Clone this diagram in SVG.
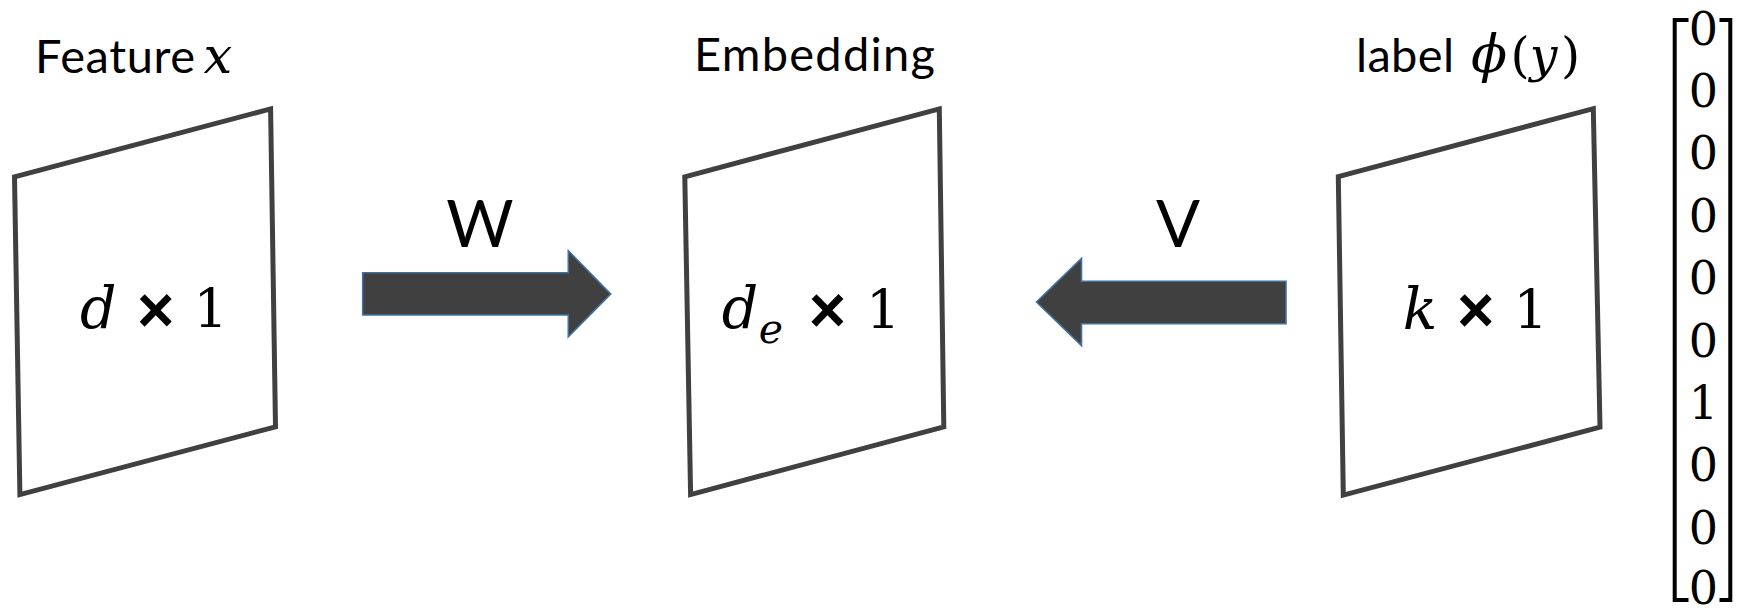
<svg xmlns="http://www.w3.org/2000/svg" width="1737" height="609" viewBox="0 0 1737 609">
<style>
.bg{fill:#ffffff}
.quad{fill:#ffffff;stroke:#404040;stroke-width:5;stroke-linejoin:miter}
.lbl{font-family:Lato,"Open Sans","Liberation Sans",sans-serif;font-size:47px;fill:#000}
.arrlbl{font-family:Lato,"Open Sans","Liberation Sans",sans-serif;font-size:65px;fill:#000;text-anchor:middle}
.math{font-family:"DejaVu Serif","Liberation Serif",serif;font-style:italic;fill:#000;text-anchor:middle}
.num{font-family:"DejaVu Serif","Liberation Serif",serif;fill:#000;text-anchor:middle}
.times{font-family:"Liberation Sans",Arial,sans-serif;font-weight:bold;font-size:64px;fill:#000;text-anchor:middle}
.arrow{fill:#404040;stroke:#41719C;stroke-width:1.6;stroke-linejoin:miter}
.bracket{fill:none;stroke:#000;stroke-width:4;stroke-linecap:butt;stroke-linejoin:miter}
</style>
<rect class="bg" x="0" y="0" width="1737" height="609"/>

<g id="node-feature">
  <text class="lbl" x="35" y="72.5" textLength="160">Feature</text>
  <text class="math" x="218" y="72.5" font-size="51">x</text>
  <polygon class="quad" points="14.5,176.8 270.6,108.9 275.5,426.8 19.9,494.6"/>
  <text class="math" x="98.3" y="328.3" font-size="57">d</text>
  <text class="times" x="155.8" y="332">×</text>
  <text class="num" x="210.8" y="328.3" font-size="54">1</text>
</g>

<g id="node-embedding">
  <text class="lbl" x="694" y="71.4" textLength="241">Embedding</text>
  <polygon class="quad" points="684.8,176.8 939.3,108.9 943.8,426.8 690.6,494.6"/>
  <text class="math" x="740" y="328.3" font-size="57">d</text>
  <text class="math" x="771" y="342.5" font-size="41">e</text>
  <text class="times" x="827.5" y="332">×</text>
  <text class="num" x="883.3" y="329" font-size="54">1</text>
</g>

<g id="node-label">
  <text class="lbl" x="1356" y="72" textLength="98">label</text>
  <text class="math" x="1489" y="72" font-size="53">ϕ</text>
  <text class="num" x="1520" y="72" font-size="49">(</text>
  <text class="math" x="1543.5" y="72" font-size="49">y</text>
  <text class="num" x="1570.5" y="72" font-size="49">)</text>
  <polygon class="quad" points="1338.3,176.7 1593.3,108.7 1600,427.2 1343.3,495.1"/>
  <text class="math" x="1420" y="329.3" font-size="57">k</text>
  <text class="times" x="1475.8" y="332">×</text>
  <text class="num" x="1530.8" y="329.3" font-size="54">1</text>
</g>

<g id="one-hot-vector">
  <polyline class="bracket" points="1688.5,20 1674.7,20 1674.7,600 1688.5,600"/>
  <polyline class="bracket" points="1719.5,20 1730.3,20 1730.3,600 1719.5,600"/>
  <g class="num" font-size="46">
    <text x="1703.3" y="44.5">0</text>
    <text x="1703.3" y="106.9">0</text>
    <text x="1703.3" y="169.3">0</text>
    <text x="1703.3" y="231.7">0</text>
    <text x="1703.3" y="294.1">0</text>
    <text x="1703.3" y="356.5">0</text>
    <text x="1703.3" y="418.9">1</text>
    <text x="1703.3" y="481.3">0</text>
    <text x="1703.3" y="543.7">0</text>
    <text x="1703.3" y="604">0</text>
  </g>
</g>

<g id="connectors">
  <g id="edge-W">
    <polygon class="arrow" points="362.7,272.7 568.3,272.7 568.3,250.7 610.7,294 568.3,336.7 568.3,315 362.7,315"/>
    <text class="arrlbl" x="480" y="247">W</text>
  </g>
  <g id="edge-V">
    <polygon class="arrow" points="1286,281.2 1081.5,281.2 1081.5,258.5 1036.5,302 1081.5,345.5 1081.5,323.7 1286,323.7"/>
    <text class="arrlbl" x="1178" y="247">V</text>
  </g>
</g>
</svg>
